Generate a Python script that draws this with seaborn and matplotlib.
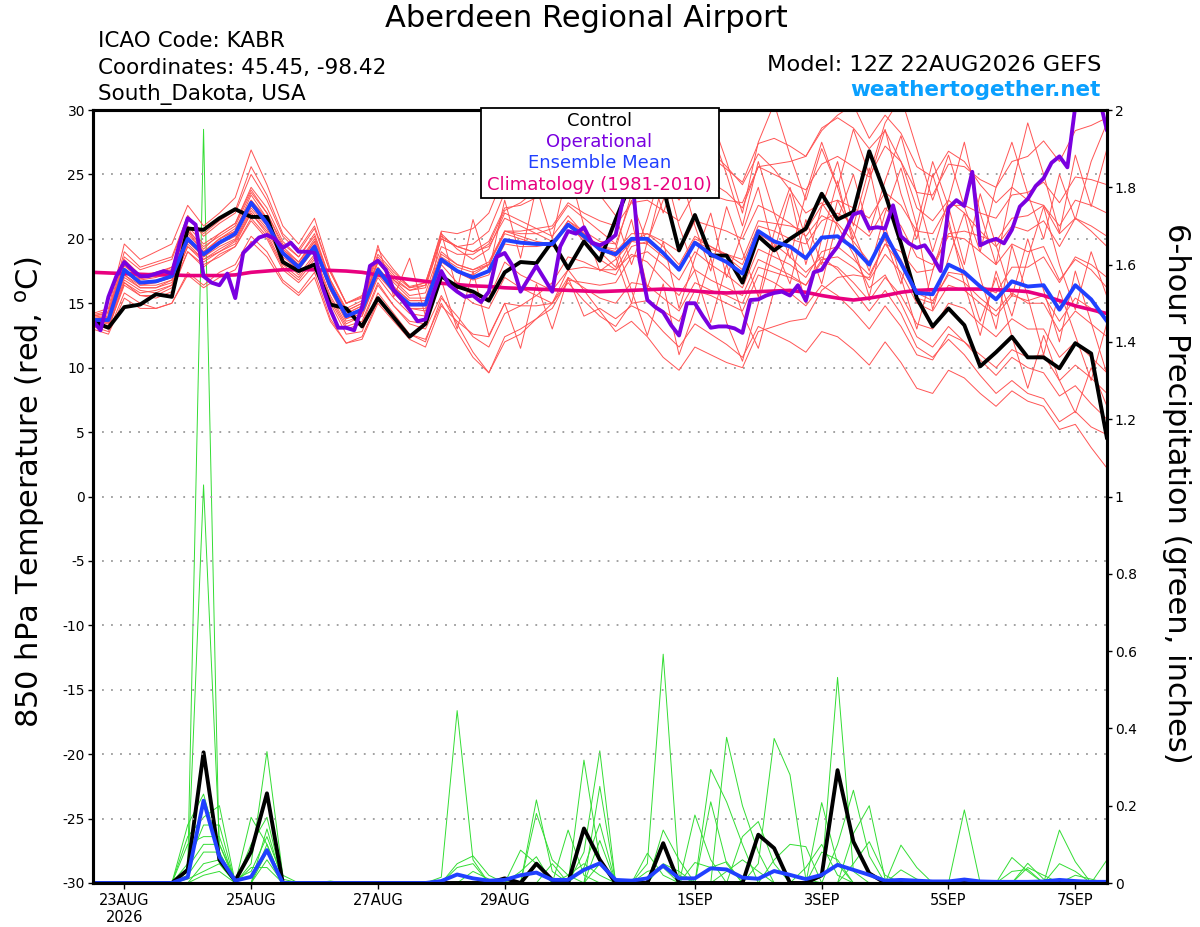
import numpy as np
import pandas as pd
import matplotlib
matplotlib.use("Agg")
import matplotlib.pyplot as plt
from matplotlib.patches import Rectangle
from matplotlib.ticker import FuncFormatter
import seaborn as sns

# ---- data ----
station = "Aberdeen Regional Airport"
info_left = ["ICAO Code: KABR", "Coordinates: 45.45, -98.42", "South_Dakota, USA"]
model_txt = "Model: 12Z 22AUG2026 GEFS"
site_txt = "weathertogether.net"

tick_hours = [12, 60, 108, 156, 228, 276, 324, 372]
tick_labels = ["23AUG\n2026", "25AUG", "27AUG", "29AUG", "1SEP", "3SEP", "5SEP", "7SEP"]

# 850 hPa temperature, 6-hourly (f000..f384)
control_t = [13.6, 13.1, 14.7, 14.9, 15.7, 15.5, 20.8, 20.7, 21.6, 22.3, 21.7, 21.7, 18.2, 17.5, 18.0, 14.9, 14.6,
             13.2, 15.4, 13.9, 12.4, 13.4, 17.1, 16.3, 15.9, 15.2, 17.4, 18.2, 18.1, 19.8, 17.7, 19.8, 18.3,
             21.5, 24.5, 25.0, 24.0, 19.1, 21.85, 18.7, 18.7, 16.6, 20.2, 19.1, 20.0, 20.8, 23.5, 21.5, 22.1,
             26.8, 23.5, 19.65, 15.4, 13.2, 14.6, 13.3, 10.1, 11.2, 12.4, 10.8, 10.8, 9.95, 11.9, 11.1, 4.5]
mean_t = [13.7, 13.7, 17.6, 16.6, 16.7, 17.1, 20.0, 18.8, 19.7, 20.4, 22.8, 21.2, 18.9, 17.8, 19.4, 16.3, 14.0,
          14.5, 17.6, 16.0, 14.9, 14.9, 18.4, 17.5, 17.0, 17.5, 19.9, 19.7, 19.6, 19.6, 21.1, 20.2, 19.2,
          18.8, 20.0, 20.0, 18.9, 17.6, 19.7, 18.8, 18.2, 17.3, 20.6, 19.8, 19.4, 18.5, 20.1, 20.2, 19.3,
          18.0, 20.4, 18.1, 15.8, 15.7, 18.0, 17.4, 16.3, 15.3, 16.7, 16.3, 16.4, 14.5, 16.4, 15.3, 13.6]
clim_t = [17.4, 17.35, 17.3, 17.25, 17.2, 17.2, 17.15, 17.15, 17.15, 17.2, 17.4, 17.5, 17.6, 17.6, 17.6, 17.55, 17.5,
          17.4, 17.2, 17.0, 16.85, 16.7, 16.55, 16.45, 16.35, 16.3, 16.2, 16.15, 16.1, 16.05, 16.0, 15.95, 15.9,
          15.95, 16.0, 16.05, 16.1, 16.05, 15.95, 15.85, 15.8, 15.85, 15.9, 15.95, 16.0, 15.85, 15.6, 15.4, 15.25,
          15.4, 15.6, 15.85, 16.0, 16.05, 16.1, 16.1, 16.1, 16.05, 16.0, 15.9, 15.6, 15.2, 14.8, 14.5, 14.2]

# operational run, 3-hourly
oper_t = [13.7, 12.9, 15.5, 17.1, 18.2, 17.6, 17.1, 17.1, 17.3, 17.5, 17.3, 19.7, 21.6, 21.1, 17.1, 16.6,
          16.4, 17.3, 15.4, 18.9, 19.5, 20.1, 20.3, 20.0, 19.3, 19.7, 19.0, 19.0, 18.9, 16.3, 14.5, 13.1,
          13.1, 12.9, 14.7, 17.9, 18.3, 17.6, 16.0, 15.3, 14.5, 13.6, 13.75, 15.8, 17.5, 16.4, 15.9, 15.5,
          15.6, 15.1, 15.9, 18.6, 18.9, 17.9, 15.9, 16.9, 17.9, 16.9, 15.9, 19.4, 20.6, 20.4, 20.9, 19.7,
          19.5, 19.8, 20.3, 23.3, 25.5, 18.4, 15.25, 14.7, 14.3, 13.3, 12.5, 15.0, 15.0, 14.0, 13.1, 13.2,
          13.2, 13.05, 12.7, 15.25, 15.3, 15.6, 15.8, 15.9, 15.6, 16.4, 15.2, 17.4, 17.6, 18.6, 19.4, 20.6,
          21.9, 22.1, 20.8, 20.9, 20.8, 22.6, 20.2, 19.65, 19.3, 19.5, 18.6, 17.5, 22.4, 23.0, 22.55, 25.2,
          19.5, 19.8, 20.0, 19.65, 20.7, 22.5, 23.1, 24.1, 24.7, 25.9, 26.4, 25.55, 30.3, 31.5, 32.0, 31.0,
          28.4]

# ensemble members (thin red)
temp_members = [
    [14.0, 14.3, 18.6, 17.6, 18.0, 18.4, 21.8, 20.2, 21.2, 22.0, 25.0, 23.0, 20.2, 19.0, 20.8, 17.4, 15.0,
     15.5, 18.8, 17.4, 16.3, 16.6, 20.2, 19.4, 19.0, 19.8, 22.4, 22.6, 23.2, 23.8, 25.4, 24.6, 23.8,
     23.4, 25.2, 25.8, 24.6, 23.0, 25.0, 24.4, 23.6, 22.4, 25.6, 25.0, 24.4, 23.8, 25.8, 26.4, 25.6,
     24.8, 27.2, 26.0, 23.6, 23.4, 25.8, 25.6, 24.6, 24.0, 26.0, 26.4, 27.6, 26.0, 28.4, 28.8, 29.4],
    [13.4, 13.0, 16.6, 15.6, 15.4, 15.9, 19.0, 17.8, 18.8, 19.4, 21.6, 20.2, 17.8, 16.8, 18.4, 15.2, 13.0,
     13.4, 16.4, 14.8, 13.6, 13.4, 16.8, 13.0, 17.5, 12.5, 15.0, 11.5, 16.5, 13.0, 17.0, 14.0, 14.6,
     13.8, 14.8, 14.2, 12.8, 11.6, 13.4, 12.6, 11.8, 10.8, 13.2, 12.6, 12.0, 11.2, 12.8, 12.4, 11.4,
     10.2, 12.0, 10.4, 8.4, 8.0, 9.8, 9.2, 8.0, 7.0, 8.2, 7.4, 7.0, 5.2, 5.6, 3.8, 2.2],
    [14.2, 14.6, 19.6, 18.4, 19.0, 19.6, 22.6, 21.0, 22.0, 23.2, 26.9, 24.2, 21.0, 19.6, 21.6, 17.6, 15.0,
     15.6, 19.2, 17.6, 16.2, 16.6, 20.4, 19.2, 18.4, 19.2, 22.0, 21.4, 20.8, 20.2, 21.8, 20.4, 19.0,
     17.8, 21.5, 16.2, 19.8, 14.6, 18.5, 22.0, 17.0, 20.5, 24.0, 19.0, 23.5, 18.0, 22.5, 26.0, 21.0,
     25.5, 20.0, 16.5, 21.0, 14.5, 18.5, 22.0, 17.0, 13.0, 19.5, 15.5, 11.0, 16.0, 12.5, 9.0, 13.5],
    [13.2, 12.8, 15.8, 15.0, 14.6, 15.0, 17.4, 16.4, 17.4, 18.0, 20.2, 19.0, 16.8, 15.8, 17.4, 13.8, 11.9,
     12.4, 15.2, 13.8, 12.6, 12.0, 15.4, 14.0, 12.4, 11.6, 14.2, 14.8, 15.6, 16.6, 18.6, 18.2, 17.6,
     17.2, 19.4, 19.8, 18.8, 17.8, 20.0, 19.4, 18.8, 18.0, 21.0, 20.6, 20.0, 19.6, 21.4, 22.0, 21.2,
     20.2, 22.4, 21.0, 18.6, 18.0, 20.2, 20.0, 19.0, 18.0, 19.6, 19.0, 19.4, 16.8, 18.4, 17.6, 16.2],
    [13.6, 13.9, 17.9, 16.9, 17.1, 17.6, 20.6, 19.4, 20.2, 21.0, 23.6, 22.0, 19.6, 18.6, 20.2, 16.8, 14.6,
     15.2, 18.2, 16.8, 15.6, 15.8, 19.4, 18.8, 18.8, 19.6, 22.2, 22.8, 23.8, 24.8, 26.4, 25.8, 25.2,
     24.4, 26.4, 27.2, 26.2, 24.8, 26.8, 26.4, 25.4, 24.4, 27.4, 27.8, 27.2, 26.4, 28.4, 29.6, 30.4,
     27.8, 29.6, 28.2, 25.6, 24.8, 26.8, 26.0, 24.2, 22.8, 24.0, 23.0, 22.6, 20.4, 21.6, 20.6, 19.4],
    [13.5, 13.6, 17.2, 16.2, 16.2, 16.6, 19.6, 18.4, 19.2, 19.9, 22.2, 20.8, 18.6, 17.6, 19.2, 16.0, 13.8,
     14.2, 17.4, 15.8, 14.6, 14.4, 18.0, 16.6, 15.6, 15.4, 18.2, 17.2, 16.6, 16.0, 17.6, 16.0, 14.4,
     12.8, 13.6, 12.4, 10.8, 9.8, 11.6, 11.0, 10.4, 10.0, 12.8, 13.2, 13.6, 13.8, 16.0, 17.0, 17.2,
     17.0, 19.6, 19.0, 17.4, 17.6, 20.4, 20.6, 20.2, 19.8, 21.6, 21.8, 22.6, 21.0, 23.0, 22.6, 22.0],
    [13.8, 14.0, 18.0, 17.0, 17.2, 17.8, 20.6, 19.0, 20.0, 20.8, 23.0, 21.6, 19.2, 18.0, 19.8, 16.6, 14.2,
     14.8, 17.8, 16.3, 15.2, 15.2, 18.8, 18.0, 17.6, 18.2, 20.6, 20.2, 19.8, 19.6, 21.4, 20.4, 19.4,
     19.2, 23.5, 26.0, 22.0, 25.5, 21.0, 17.5, 22.5, 19.0, 15.5, 20.5, 24.0, 20.0, 16.5, 21.5, 25.0,
     20.5, 24.5, 28.0, 23.5, 19.0, 23.0, 27.5, 22.0, 18.0, 24.0, 29.0, 25.0, 20.5, 26.5, 22.5, 27.0],
    [13.9, 14.1, 18.2, 17.0, 17.4, 17.8, 21.0, 19.6, 20.4, 21.2, 24.0, 22.4, 19.8, 18.6, 20.4, 16.8, 14.4,
     15.0, 18.4, 17.0, 16.0, 16.2, 20.0, 19.4, 19.6, 20.6, 23.6, 23.8, 24.4, 24.6, 26.2, 25.0, 24.2,
     24.0, 26.4, 27.2, 26.0, 25.0, 27.6, 26.8, 25.6, 24.2, 26.6, 25.4, 23.8, 22.0, 22.8, 21.0, 18.8,
     16.2, 17.2, 15.0, 12.4, 11.6, 13.2, 12.0, 10.6, 9.4, 10.8, 10.0, 9.6, 7.8, 8.6, 7.2, 6.0],
    [13.3, 13.1, 16.4, 15.6, 15.6, 16.2, 19.0, 18.0, 18.6, 19.4, 21.4, 20.0, 17.6, 16.6, 18.0, 15.0, 12.6,
     12.8, 15.8, 14.2, 12.6, 12.2, 15.0, 12.8, 10.8, 9.6, 12.4, 13.0, 13.8, 14.6, 16.8, 16.6, 16.4,
     16.6, 18.6, 19.0, 18.0, 16.8, 19.0, 18.0, 17.2, 16.2, 19.2, 18.6, 18.0, 17.0, 19.0, 19.4, 18.4,
     17.2, 19.6, 18.0, 15.4, 15.0, 17.4, 17.2, 16.4, 15.8, 17.8, 17.8, 18.6, 16.6, 18.6, 18.0, 17.0],
    [13.7, 13.8, 17.4, 16.6, 16.8, 17.0, 20.2, 18.8, 20.0, 20.6, 23.4, 21.6, 19.2, 18.2, 19.8, 16.4, 14.2,
     14.8, 18.2, 16.8, 16.0, 16.4, 20.6, 20.4, 20.8, 22.0, 25.0, 25.4, 26.0, 25.6, 26.8, 25.0, 23.4,
     21.8, 18.0, 21.6, 25.8, 21.0, 17.5, 13.5, 18.0, 14.2, 11.5, 16.0, 19.5, 15.0, 20.0, 24.5, 19.5,
     15.5, 21.0, 17.0, 13.0, 17.5, 21.5, 16.5, 12.5, 17.5, 14.0, 18.5, 22.5, 18.0, 14.5, 19.0, 15.5],
    [13.6, 13.4, 17.0, 16.2, 16.2, 16.8, 19.8, 18.6, 19.4, 20.0, 22.4, 21.0, 18.8, 17.6, 19.2, 16.0, 13.6,
     14.0, 17.0, 15.4, 14.2, 14.0, 17.4, 16.0, 15.0, 14.6, 17.0, 16.2, 15.6, 15.0, 16.6, 15.2, 14.0,
     13.2, 15.0, 15.2, 14.4, 13.6, 16.0, 15.6, 15.0, 14.4, 17.2, 16.6, 15.8, 14.8, 16.4, 15.6, 14.4,
     13.0, 14.8, 13.2, 11.0, 10.6, 12.6, 12.0, 11.0, 10.0, 11.4, 10.8, 11.0, 9.0, 10.2, 9.2, 8.0],
    [14.0, 14.2, 18.4, 17.2, 17.4, 17.6, 20.8, 19.2, 20.4, 21.2, 23.8, 22.0, 19.4, 18.2, 20.0, 16.8, 14.4,
     15.0, 18.2, 16.6, 15.4, 15.4, 19.0, 18.0, 17.6, 18.0, 20.6, 20.6, 20.8, 21.0, 22.8, 22.0, 21.4,
     21.0, 22.8, 23.0, 22.2, 21.4, 23.6, 23.4, 23.0, 22.8, 25.6, 25.8, 26.0, 26.4, 28.6, 29.4, 28.6,
     27.0, 28.4, 26.0, 22.4, 21.4, 23.0, 22.0, 20.6, 19.4, 21.0, 20.6, 21.4, 19.4, 21.6, 21.0, 20.2],
    [13.5, 13.6, 17.6, 16.4, 16.4, 16.8, 19.8, 18.8, 19.6, 20.2, 22.6, 21.2, 19.0, 17.8, 19.4, 16.2, 14.0,
     14.6, 17.6, 16.2, 15.2, 15.2, 18.6, 17.8, 17.4, 18.0, 20.4, 20.0, 19.6, 19.4, 21.0, 20.0, 19.2,
     18.6, 15.0, 19.8, 23.0, 27.0, 23.5, 28.5, 25.0, 21.0, 26.0, 22.0, 18.5, 23.5, 27.5, 24.0, 20.0,
     24.5, 28.5, 23.5, 20.0, 25.0, 21.0, 17.5, 13.6, 17.0, 12.4, 8.4, 12.5, 9.0, 6.5, 10.0, 7.0],
    [13.8, 13.9, 18.0, 16.8, 17.0, 17.4, 20.4, 19.0, 20.0, 20.6, 23.0, 21.4, 19.0, 18.0, 19.6, 16.4, 14.0,
     14.6, 19.5, 15.5, 18.5, 14.0, 20.5, 16.0, 21.5, 17.5, 23.0, 18.5, 24.0, 20.0, 25.5, 21.0, 17.5,
     18.4, 19.8, 19.6, 18.6, 17.6, 19.8, 19.2, 18.8, 18.4, 21.4, 21.2, 21.0, 20.6, 22.6, 23.0, 22.4,
     21.6, 23.6, 22.6, 20.6, 20.4, 22.6, 22.6, 22.0, 21.6, 23.4, 23.6, 24.4, 22.8, 24.8, 24.6, 24.2],
    [13.6, 13.5, 17.2, 16.4, 16.6, 17.0, 20.0, 18.6, 19.6, 20.4, 22.8, 21.2, 18.8, 17.8, 19.4, 16.2, 13.8,
     14.4, 17.6, 16.0, 14.8, 14.8, 18.4, 17.4, 17.0, 17.6, 20.0, 19.8, 19.6, 19.6, 21.2, 20.4, 19.4,
     19.0, 20.4, 20.4, 19.4, 18.0, 20.2, 19.4, 18.6, 17.6, 20.4, 19.6, 18.6, 17.4, 18.6, 17.6, 16.0,
     14.4, 16.0, 14.2, 11.6, 10.8, 12.2, 11.0, 9.4, 8.0, 9.0, 8.0, 7.6, 5.8, 6.6, 5.4, 4.8],
    [13.2, 13.3, 16.8, 16.0, 15.8, 16.4, 19.4, 18.4, 19.0, 19.8, 22.0, 20.6, 18.4, 17.2, 18.8, 15.6, 13.4,
     14.0, 17.2, 15.8, 14.6, 14.6, 18.2, 17.4, 17.2, 18.0, 20.6, 20.4, 20.4, 20.8, 22.6, 21.6, 20.6,
     19.6, 23.0, 19.6, 24.5, 28.0, 25.0, 29.5, 26.0, 22.0, 27.5, 30.5, 26.5, 23.0, 27.0, 24.0, 28.5,
     25.0, 29.0, 31.0, 27.0, 23.0, 26.5, 22.5, 19.0, 24.0, 27.5, 23.5, 20.0, 25.0, 21.5, 26.0, 29.0],
    [13.4, 13.2, 16.6, 15.8, 16.0, 16.4, 19.4, 18.2, 19.0, 19.6, 22.0, 20.4, 18.0, 17.0, 18.6, 15.4, 13.2,
     13.6, 16.6, 14.8, 13.4, 13.0, 15.6, 13.4, 11.2, 9.6, 12.0, 12.6, 13.8, 15.0, 17.6, 17.8, 17.6,
     17.6, 19.8, 20.4, 19.8, 19.0, 21.4, 21.0, 20.6, 20.0, 22.6, 22.0, 21.2, 20.2, 21.8, 21.2, 19.8,
     18.2, 20.0, 18.4, 15.8, 15.2, 17.2, 16.6, 15.4, 14.4, 15.8, 15.0, 15.0, 12.8, 14.4, 13.4, 12.4],
    [14.1, 14.4, 19.0, 17.8, 18.2, 18.6, 21.8, 20.4, 21.4, 22.2, 25.6, 23.4, 20.4, 19.2, 21.0, 17.4, 15.0,
     15.4, 18.6, 17.2, 16.2, 16.4, 20.0, 19.4, 19.0, 19.4, 21.6, 21.0, 20.4, 19.8, 21.2, 19.8, 18.4,
     17.6, 18.8, 18.2, 16.8, 15.6, 17.6, 16.8, 16.2, 15.6, 18.4, 17.8, 17.2, 16.4, 18.2, 17.8, 16.6,
     15.2, 17.0, 15.6, 13.4, 13.0, 15.0, 14.6, 13.4, 12.4, 13.8, 13.0, 13.0, 10.8, 12.0, 10.8, 9.6],
    [13.7, 13.6, 17.4, 16.6, 16.6, 17.0, 20.0, 18.8, 19.8, 20.4, 22.8, 21.4, 19.0, 17.8, 19.4, 16.2, 14.0,
     14.6, 17.6, 16.0, 15.0, 15.0, 18.4, 17.4, 16.8, 17.2, 19.6, 19.4, 19.4, 19.6, 21.4, 20.6, 19.8,
     19.6, 16.0, 12.5, 16.5, 11.0, 14.5, 18.5, 13.5, 10.5, 15.0, 19.5, 16.5, 21.5, 18.0, 23.0, 20.5,
     17.5, 22.0, 25.5, 21.0, 26.0, 22.5, 18.0, 23.5, 19.5, 15.5, 20.0, 16.0, 12.0, 17.5, 13.5, 9.5],
    [13.0, 12.6, 15.4, 14.6, 14.6, 15.0, 17.2, 16.2, 17.0, 17.6, 19.8, 18.6, 16.6, 15.6, 17.0, 13.6, 11.9,
     12.2, 15.0, 13.6, 12.2, 11.6, 14.8, 13.6, 12.6, 12.4, 15.0, 14.8, 14.8, 15.0, 17.0, 16.2, 15.4,
     15.0, 16.6, 16.4, 15.4, 14.4, 16.6, 16.0, 15.6, 15.0, 17.8, 17.4, 17.0, 16.4, 18.4, 18.6, 17.8,
     16.8, 18.8, 17.4, 15.0, 14.4, 16.4, 16.0, 15.0, 14.0, 15.6, 15.2, 15.6, 13.6, 15.4, 14.6, 13.8],
]

# 6-hour precipitation (inches)
control_p = [0, 0, 0, 0, 0, 0, 0.034, 0.338, 0.06, 0.006, 0.081, 0.232,
             0, 0, 0, 0, 0, 0, 0, 0, 0, 0, 0, 0, 0, 0,
             0.012, 0, 0.05, 0.008, 0, 0.141, 0.06, 0, 0, 0, 0.103, 0, 0, 0, 0, 0,
             0.125, 0.09, 0, 0, 0.02, 0.292, 0.107, 0.025,
             0, 0, 0, 0, 0, 0, 0, 0, 0, 0, 0, 0, 0, 0, 0]
mean_p = [0, 0, 0, 0, 0, 0, 0.015, 0.213, 0.068, 0.006, 0.016, 0.085,
          0, 0, 0, 0, 0, 0, 0, 0, 0, 0,
          0.005, 0.022, 0.012, 0.006, 0.008, 0.02, 0.027, 0.008, 0.008, 0.034, 0.051,
          0.008, 0.006, 0.012, 0.045, 0.012, 0.012, 0.038, 0.035, 0.014, 0.011,
          0.031, 0.021, 0.01, 0.021, 0.047, 0.034, 0.021, 0.006, 0.008, 0.006,
          0.004, 0.004, 0.009, 0.004, 0.003, 0.003, 0.003, 0.004, 0.008, 0.005, 0.003, 0.003]
# members: only the non-zero 6h totals (index -> inches)
precip_members = [
    {6: 0.03, 7: 1.95, 8: 0.05, 27: 0.085, 28: 0.05, 38: 0.176, 39: 0.06, 62: 0.02, 63: 0.01},
    {6: 0.02, 7: 1.03, 8: 0.10, 28: 0.215, 29: 0.03, 39: 0.294, 40: 0.21, 41: 0.10},
    {6: 0.15, 7: 0.23, 8: 0.08, 10: 0.17, 11: 0.10, 28: 0.18, 29: 0.06, 30: 0.02, 40: 0.377, 41: 0.20, 42: 0.08},
    {6: 0.12, 7: 0.17, 8: 0.20, 10: 0.05, 11: 0.34, 12: 0.02, 35: 0.077, 36: 0.02, 51: 0.098, 52: 0.04},
    {6: 0.05, 7: 0.15, 8: 0.15, 10: 0.10, 11: 0.17, 27: 0.03, 28: 0.068, 39: 0.21, 40: 0.05, 58: 0.03, 59: 0.035},
    {6: 0.10, 7: 0.12, 8: 0.12, 11: 0.14, 30: 0.137, 31: 0.02, 38: 0.053, 39: 0.04, 40: 0.055, 55: 0.189},
    {6: 0.04, 7: 0.10, 8: 0.10, 9: 0.01, 10: 0.03, 11: 0.12, 12: 0.01, 31: 0.318, 32: 0.06, 46: 0.208, 47: 0.05},
    {6: 0.02, 7: 0.08, 8: 0.08, 11: 0.10, 31: 0.08, 32: 0.342, 51: 0.034, 52: 0.01},
    {7: 0.05, 8: 0.06, 11: 0.08, 32: 0.25, 41: 0.12, 42: 0.159, 43: 0.05, 58: 0.066, 59: 0.03},
    {6: 0.01, 7: 0.03, 8: 0.05, 11: 0.06, 31: 0.04, 32: 0.154, 42: 0.05, 43: 0.374, 44: 0.28, 45: 0.01},
    {7: 0.02, 8: 0.03, 32: 0.11, 46: 0.02, 47: 0.532, 48: 0.03},
    {10: 0.04, 11: 0.04, 29: 0.05, 32: 0.05, 47: 0.10, 48: 0.24, 49: 0.07},
    {15: 0.005, 35: 0.05, 36: 0.592, 37: 0.02, 59: 0.051, 60: 0.01},
    {22: 0.015, 23: 0.446, 24: 0.06, 36: 0.137, 37: 0.06, 48: 0.128, 49: 0.20, 50: 0.01},
    {23: 0.05, 24: 0.07, 25: 0.02, 36: 0.05, 37: 0.03, 48: 0.05, 49: 0.107, 50: 0.02},
    {23: 0.04, 24: 0.05, 35: 0.03, 36: 0.04, 59: 0.04, 60: 0.02},
    {24: 0.03, 25: 0.01, 40: 0.03, 41: 0.06, 42: 0.03, 61: 0.137, 62: 0.055},
    {30: 0.02, 31: 0.05, 32: 0.02, 46: 0.08, 47: 0.06},
    {43: 0.06, 44: 0.10, 45: 0.094, 61: 0.05, 62: 0.03},
    {45: 0.04, 46: 0.10, 47: 0.02, 64: 0.06},
]

for s in [control_t, mean_t, clim_t, control_p, mean_p] + temp_members:
    assert len(s) == 65, len(s)
assert len(oper_t) == 129

# ---- colours ----
RED = "#ff5454"
GREEN = "#33dd33"
PURPLE = "#7a00e0"
BLUE = "#2040ff"
MAGENTA = "#e8007f"

sns.set_style("white")
plt.rcParams["font.family"] = ["DejaVu Sans"]
plt.rcParams["axes.unicode_minus"] = False
for key in ["text.color", "axes.labelcolor", "xtick.color", "ytick.color", "axes.edgecolor"]:
    plt.rcParams[key] = "black"

hours6 = np.arange(0, 385, 6)
hours3 = np.arange(0, 385, 3)

temp_df = pd.DataFrame([(h, v, k) for k, m in enumerate(temp_members) for h, v in zip(hours6, m)],
                       columns=["hour", "temp", "member"])
precip_df = pd.DataFrame([(h, m.get(i, 0.0), k) for k, m in enumerate(precip_members)
                          for i, h in enumerate(hours6)],
                         columns=["hour", "precip", "member"])

W, H = 1200, 927
fig = plt.figure(figsize=(W / 100, H / 100), dpi=100)
L, R, T, B = 92.6, 1107, 110, 883
ax = fig.add_axes([L / W, 1 - B / H, (R - L) / W, (B - T) / H])
ax2 = ax.twinx()
ax.set_zorder(ax2.get_zorder() + 1)
ax.patch.set_visible(False)

# precipitation (right axis)
sns.lineplot(data=precip_df, x="hour", y="precip", units="member", estimator=None,
             color=GREEN, lw=0.7, ax=ax2, legend=False, sort=False)
sns.lineplot(x=hours6, y=control_p, color="black", lw=2.8, ax=ax2, sort=False)
sns.lineplot(x=hours6, y=mean_p, color=BLUE, lw=2.8, ax=ax2, sort=False)

# temperature (left axis)
sns.lineplot(data=temp_df, x="hour", y="temp", units="member", estimator=None,
             color=RED, lw=0.7, ax=ax, legend=False, sort=False)
sns.lineplot(x=hours6, y=clim_t, color=MAGENTA, lw=2.6, ax=ax, sort=False)
sns.lineplot(x=hours6, y=control_t, color="black", lw=2.8, ax=ax, sort=False)
sns.lineplot(x=hours6, y=mean_t, color=BLUE, lw=2.8, ax=ax, sort=False)
sns.lineplot(x=hours3, y=oper_t, color=PURPLE, lw=2.8, ax=ax, sort=False)

ax.set_xlim(0, 384)
ax.set_ylim(-30, 30)
ax2.set_ylim(0, 2)
ax.set_yticks(np.arange(-30, 31, 5))
ax2.set_yticks(np.arange(0, 2.01, 0.2))
ax2.yaxis.set_major_formatter(FuncFormatter(lambda v, p: "%g" % round(v, 1)))
ax.set_xticks(tick_hours)
ax.set_xticklabels(tick_labels)
for a in (ax, ax2):
    a.set_xlabel("")
    a.set_ylabel("")
    for sp in a.spines.values():
        sp.set_linewidth(2.2)
        sp.set_color("black")

ax.grid(axis="y", color="#9a9a9a", ls=(0, (1, 4)), lw=1.3)
ax.grid(axis="x", visible=False)
ax2.grid(False)
ax.set_axisbelow(True)

ax.tick_params(axis="y", left=True, direction="out", length=3.5, width=1, labelsize=10, pad=2)
ax2.tick_params(axis="y", right=True, direction="out", length=3.5, width=1, labelsize=10, pad=2)
ax.tick_params(axis="x", bottom=True, direction="out", length=4, width=1, labelsize=10.5, pad=3)

# axis titles
fig.text(30 / W, 1 - 492 / H, r"850 hPa Temperature (red, $^{\mathrm{o}}$C)",
         rotation=90, ha="center", va="center", fontsize=22)
fig.text(1177 / W, 1 - 493 / H, "6-hour Precipitation (green, inches)",
         rotation=270, ha="center", va="center", fontsize=22)

# header
fig.text(586 / W, 1 - 27 / H, station, ha="center", va="baseline", fontsize=22)
for txt, yb in zip(info_left, [47, 74, 100]):
    fig.text(98 / W, 1 - yb / H, txt, ha="left", va="baseline", fontsize=15.5)
fig.text(1101 / W, 1 - 71 / H, model_txt, ha="right", va="baseline", fontsize=16.2)
fig.text(1101 / W, 1 - 96 / H, site_txt, ha="right", va="baseline", fontsize=15.5,
         fontweight="bold", color="#0aa0ff")

# legend box
bx0, bx1, by0, by1 = 480.5, 719.3, 108, 198.3
fig.add_artist(Rectangle((bx0 / W, 1 - by1 / H), (bx1 - bx0) / W, (by1 - by0) / H,
                         transform=fig.transFigure, facecolor="white", edgecolor="black",
                         lw=1.3, zorder=10))
for txt, col, yc in [("Control", "black", 121), ("Operational", PURPLE, 142),
                     ("Ensemble Mean", BLUE, 163.5), ("Climatology (1981-2010)", MAGENTA, 185)]:
    fig.text(599.5 / W, 1 - yc / H, txt, ha="center", va="center", fontsize=13,
             color=col, zorder=11)

fig.savefig("out.png", dpi=100)
